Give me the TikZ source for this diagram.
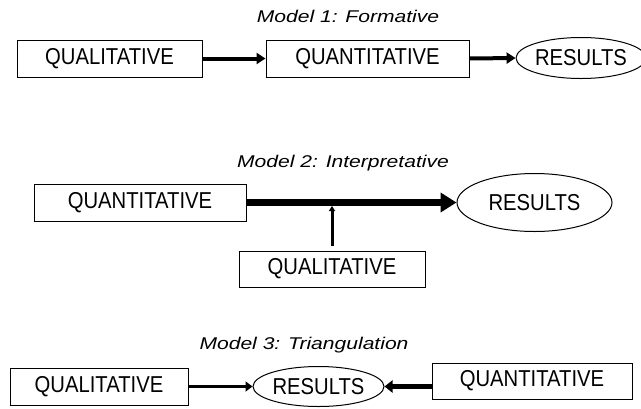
\documentclass[tikz,border=0pt]{standalone}
\usepackage{fontspec}
\setmainfont{Liberation Sans}
\newfontfamily\boxfont[FakeStretch=0.88]{Liberation Sans}
\newfontfamily\titlefont[FakeStretch=1.24]{Liberation Sans}
\usetikzlibrary{arrows.meta,shapes.geometric}
\begin{document}
\begin{tikzpicture}[x=1pt,y=-1pt,
  box/.style={draw, line width=1pt, minimum height=37pt, inner sep=0pt,
    font=\boxfont\fontsize{23}{27}\selectfont},
  oval/.style={draw, ellipse, line width=1pt, inner sep=0pt,
    font=\boxfont\fontsize{23}{27}\selectfont},
  ttl/.style={font=\titlefont\itshape\fontsize{17}{20}\selectfont},
  arrA/.style={line width=4pt, -{Triangle[length=9pt,width=11pt]}},
  arrB/.style={line width=7pt, -{Triangle[length=16pt,width=19pt]}},
  arrC/.style={line width=3pt, -{Triangle[length=5pt,width=6pt]}},
  arrD/.style={line width=3.3pt, -{Triangle[length=7pt,width=10pt]}},
  arrE/.style={line width=5pt, -{Triangle[length=8pt,width=12pt]}}]
\useasboundingbox (0,0) rectangle (641,408);
\fill[white] (0,0) rectangle (641,408);
% Model 1
\node[ttl] (t1) at (348,16) {Model 1: Formative};
\node[box, minimum width=185pt] (m1a) at (109.5,58.5) {QUALITATIVE};
\node[box, minimum width=203pt] (m1b) at (367.5,58.5) {QUANTITATIVE};
\node[oval, minimum width=118pt, minimum height=41pt] (m1c) at (581,58) {RESULTS};
\draw[arrA] (m1a.east) -- (m1b.west);
\draw[arrA] (m1b.east) -- (m1c.west);
% Model 2
\node[ttl] (t2) at (343,163) {Model 2: Interpretative};
\node[box, minimum width=212pt] (m2a) at (140,202.5) {QUANTITATIVE};
\node[oval, minimum width=155pt, minimum height=58pt] (m2c) at (534.5,202.5) {RESULTS};
\node[box, minimum width=186pt, minimum height=36pt] (m2b) at (332,269) {QUALITATIVE};
\coordinate (j) at (332,206);
\draw[arrB] (m2a.east) -- (m2c.west);
\draw[arrC, shorten <=5pt] (m2b.north) -- (j);
% Model 3
\node[ttl] (t3) at (304,345) {Model 3: Triangulation};
\node[box, minimum width=178pt] (m3a) at (99,386.5) {QUALITATIVE};
\node[oval, minimum width=131pt, minimum height=40pt] (m3c) at (318.5,386.5) {RESULTS};
\node[box, minimum width=200pt, minimum height=36pt] (m3b) at (532,381) {QUANTITATIVE};
\draw[arrD] (m3a.east) -- (m3c.west);
\draw[arrE] (m3b.west |- m3c.east) -- (m3c.east);
\end{tikzpicture}
\end{document}
